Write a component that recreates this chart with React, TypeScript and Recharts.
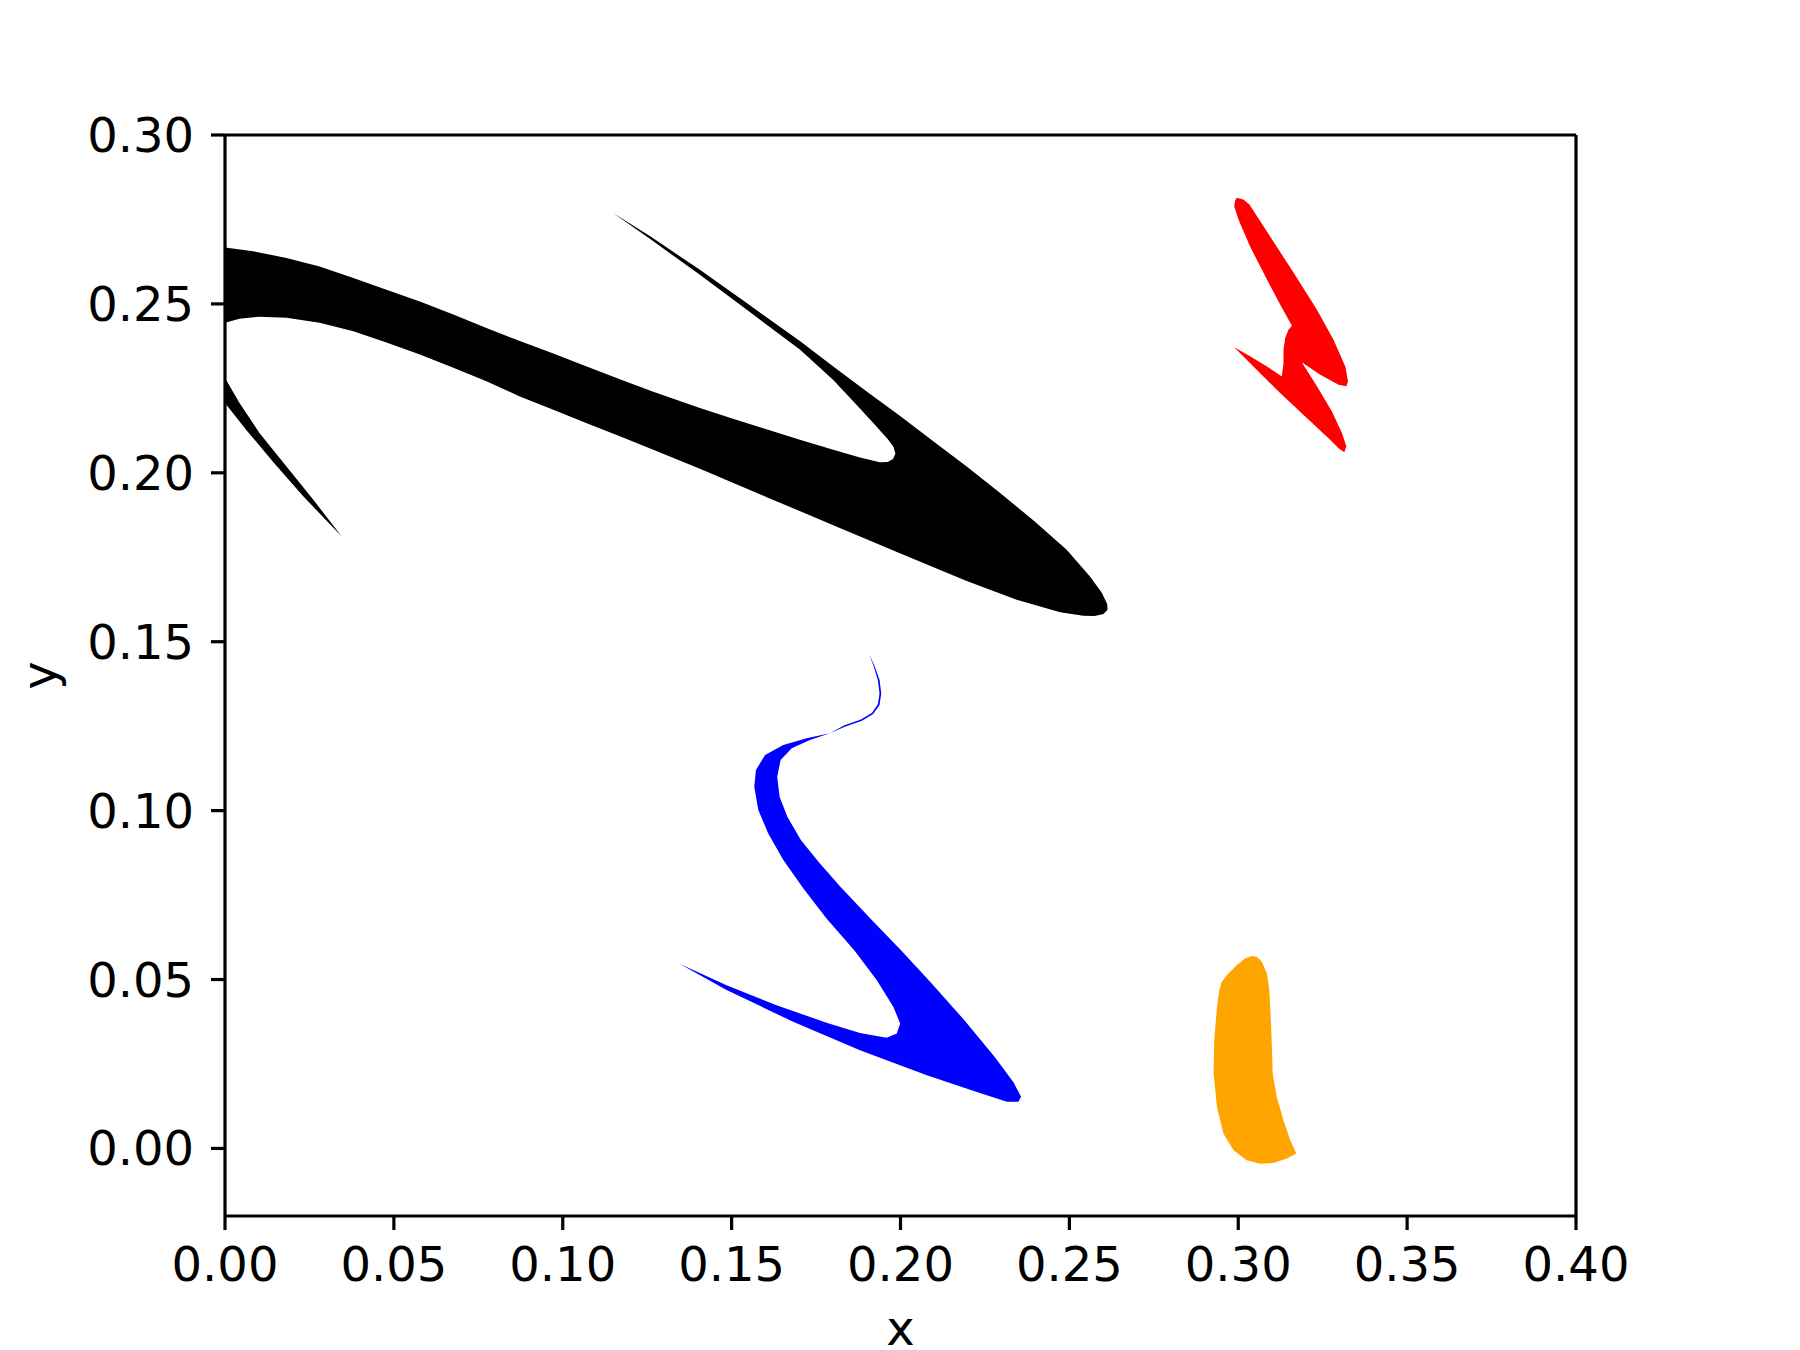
import React from 'react';
import { ScatterChart, Scatter, XAxis, YAxis, ReferenceLine } from 'recharts';

// outlines of the four filled regions, traced as [x, y] pairs
const blackOutline: [number, number][] = [
  [0, 0.2667], [0.0083, 0.2656], [0.0182, 0.2636], [0.028, 0.2611], [0.038, 0.2577], [0.0478, 0.2542],
  [0.0577, 0.2507], [0.0676, 0.2469], [0.0774, 0.2429], [0.0873, 0.239], [0.0972, 0.2353], [0.1071, 0.2315],
  [0.1169, 0.2277], [0.1268, 0.224], [0.1406, 0.2192], [0.1504, 0.216], [0.1603, 0.2129], [0.1702, 0.2098],
  [0.1801, 0.2068], [0.188, 0.2045], [0.1939, 0.2031], [0.1962, 0.2032], [0.1978, 0.2041], [0.1985, 0.2057],
  [0.1979, 0.2077], [0.1962, 0.21], [0.192, 0.2147], [0.1871, 0.22], [0.1801, 0.2275], [0.1702, 0.2365],
  [0.1555, 0.2475], [0.1406, 0.2586], [0.1259, 0.2692], [0.1149, 0.2769],
  [0.1259, 0.27], [0.1406, 0.2601], [0.1555, 0.2495], [0.1702, 0.239], [0.1801, 0.2315], [0.19, 0.2241],
  [0.1998, 0.2169], [0.2098, 0.2093], [0.2196, 0.2019], [0.2295, 0.194], [0.2394, 0.1859], [0.2492, 0.1772],
  [0.2561, 0.1693], [0.2596, 0.1645], [0.2612, 0.1612], [0.2613, 0.1595],
  [0.2601, 0.1582], [0.2575, 0.1576], [0.2541, 0.1577], [0.2473, 0.1587], [0.2344, 0.1624], [0.2196, 0.168],
  [0.1998, 0.1762], [0.1801, 0.1845], [0.1604, 0.1928], [0.1406, 0.2012], [0.1268, 0.2068], [0.1169, 0.2108],
  [0.1071, 0.2147], [0.0972, 0.2187], [0.0873, 0.2226], [0.0774, 0.2271], [0.0676, 0.2311], [0.0577, 0.235],
  [0.0478, 0.2386], [0.038, 0.2419], [0.028, 0.2444], [0.0182, 0.2459], [0.0102, 0.2462], [0.0043, 0.2456],
  [0, 0.2444],
  [0, 0.2281], [0.0043, 0.2207], [0.0102, 0.2118], [0.0182, 0.2019], [0.0261, 0.1921], [0.0345, 0.1812],
  [0.0231, 0.1931], [0.0142, 0.2033], [0.0063, 0.2127], [0, 0.2207],
];

const blueOutline: [number, number][] = [
  [0.1907, 0.1464], [0.1924, 0.1426], [0.1938, 0.1387], [0.1943, 0.1347], [0.1938, 0.1313], [0.1919, 0.1286],
  [0.1886, 0.1266], [0.1837, 0.1249], [0.1791, 0.1229],
  [0.1732, 0.1209], [0.1678, 0.1185], [0.1645, 0.115], [0.1635, 0.11], [0.1642, 0.1041], [0.1665, 0.0982],
  [0.1705, 0.0913], [0.1757, 0.0849], [0.1822, 0.0775], [0.1915, 0.0676], [0.2005, 0.0583], [0.2091, 0.049],
  [0.2186, 0.0383], [0.2279, 0.0271], [0.2335, 0.0195], [0.2357, 0.0153],
  [0.2349, 0.0138], [0.2315, 0.0138], [0.2226, 0.0167], [0.2078, 0.0217], [0.188, 0.0291], [0.1682, 0.0375],
  [0.1485, 0.0469], [0.1347, 0.0546],
  [0.1485, 0.0483], [0.1633, 0.0424], [0.1781, 0.0372], [0.188, 0.0342], [0.1959, 0.0328], [0.1989, 0.034],
  [0.1999, 0.037], [0.1979, 0.0419], [0.193, 0.0498], [0.1863, 0.0587],
  [0.1781, 0.0681], [0.1712, 0.077], [0.1653, 0.0854], [0.1608, 0.0933], [0.1579, 0.1002], [0.1567, 0.1071],
  [0.1572, 0.112], [0.1599, 0.1165], [0.1653, 0.1194], [0.1722, 0.1214], [0.1791, 0.1229],
  [0.1834, 0.1253], [0.1883, 0.127], [0.1916, 0.129], [0.1933, 0.1315], [0.1938, 0.1347], [0.1933, 0.1387],
  [0.1921, 0.1426],
];

const redOutline: [number, number][] = [
  [0.2996, 0.2814], [0.3015, 0.2809], [0.3033, 0.2794], [0.3094, 0.27], [0.3164, 0.2592], [0.3233, 0.2483],
  [0.3282, 0.2394], [0.3317, 0.2315], [0.3325, 0.227], [0.332, 0.2256], [0.3297, 0.2261], [0.3243, 0.229],
  [0.3188, 0.2327], [0.3233, 0.2256], [0.3277, 0.2182], [0.3307, 0.2118], [0.332, 0.2078], [0.3314, 0.2061],
  [0.3297, 0.2073], [0.3272, 0.2098], [0.3203, 0.2162], [0.3124, 0.2236], [0.3045, 0.2315], [0.2988, 0.2372],
  [0.3035, 0.2345], [0.3085, 0.2315], [0.3129, 0.2285], [0.3134, 0.2325], [0.3134, 0.2364], [0.3139, 0.2399],
  [0.3149, 0.2424], [0.3159, 0.2435], [0.3124, 0.2498], [0.3085, 0.2572], [0.3035, 0.267], [0.3001, 0.2749],
  [0.2988, 0.2789], [0.2991, 0.2807],
];

const orangeOutline: [number, number][] = [
  [0.2951, 0.0493], [0.2966, 0.0513], [0.2996, 0.0543], [0.302, 0.0562], [0.304, 0.057], [0.3055, 0.0567],
  [0.307, 0.0553], [0.3085, 0.0518], [0.3092, 0.0469], [0.3097, 0.037], [0.31, 0.0291], [0.3102, 0.0222],
  [0.3114, 0.0153], [0.3134, 0.0083], [0.3154, 0.0024], [0.3172, -0.0015], [0.3144, -0.003], [0.3104, -0.0043],
  [0.3065, -0.0045], [0.3025, -0.0035], [0.2986, -0.0005], [0.2956, 0.0044], [0.2937, 0.0123], [0.2927, 0.0222],
  [0.2929, 0.0321], [0.2937, 0.0419], [0.2944, 0.0469],
];

const X_TICKS = [0, 0.05, 0.1, 0.15, 0.2, 0.25, 0.3, 0.35, 0.4];
const Y_TICKS = [0, 0.05, 0.1, 0.15, 0.2, 0.25, 0.3];

const shapes = [
  { name: 'black', color: '#000000', outline: blackOutline },
  { name: 'blue', color: '#0000ff', outline: blueOutline },
  { name: 'red', color: '#ff0000', outline: redOutline },
  { name: 'orange', color: '#ffa500', outline: orangeOutline },
];

const font = 'DejaVu Sans';
const spine = 3.2;

const renderYLabel = (props: any) => {
  const vb = props.viewBox;
  const x = vb.x + 56;
  const y = vb.y + vb.height / 2;
  return (
    <text x={x} y={y} transform={`rotate(-90, ${x}, ${y})`} textAnchor="middle" fontSize={48} fontFamily={font} fill="#000">
      y
    </text>
  );
};

export default function App() {
  return (
    <div style={{ position: 'absolute', left: 0, top: 0, width: 1800, height: 1350, background: '#fff' }}>
      <ScatterChart width={1800} height={1350} margin={{ top: 135, right: 224, bottom: 0, left: 0 }}>
        <XAxis
          type="number"
          dataKey="x"
          domain={[0, 0.4]}
          allowDataOverflow
          ticks={X_TICKS}
          interval={0}
          tickFormatter={(v: number) => v.toFixed(2)}
          height={134}
          tickSize={14}
          tickMargin={17}
          axisLine={{ stroke: '#000', strokeWidth: spine }}
          tickLine={{ stroke: '#000', strokeWidth: spine }}
          tick={{ fill: '#000', fontSize: 48, fontFamily: font }}
          label={{ value: 'x', position: 'insideBottom', offset: 5, fontSize: 48, fill: '#000', fontFamily: font }}
        />
        <YAxis
          type="number"
          dataKey="y"
          domain={[-0.02, 0.3]}
          allowDataOverflow
          ticks={Y_TICKS}
          interval={0}
          tickFormatter={(v: number) => v.toFixed(2)}
          width={225}
          tickSize={14}
          tickMargin={17}
          axisLine={{ stroke: '#000', strokeWidth: spine }}
          tickLine={{ stroke: '#000', strokeWidth: spine }}
          tick={{ fill: '#000', fontSize: 48, fontFamily: font }}
          label={{ value: 'y', content: renderYLabel }}
        />
        {shapes.map((s) => (
          <Scatter
            key={s.name}
            name={s.name}
            data={s.outline.map(([x, y]) => ({ x, y }))}
            fill={s.color}
            line={{ fill: s.color, stroke: 'none' }}
            shape={() => <g />}
            isAnimationActive={false}
          />
        ))}
        <ReferenceLine y={0.3} stroke="#000" strokeWidth={spine} />
        <ReferenceLine x={0.4} stroke="#000" strokeWidth={spine} />
      </ScatterChart>
    </div>
  );
}
